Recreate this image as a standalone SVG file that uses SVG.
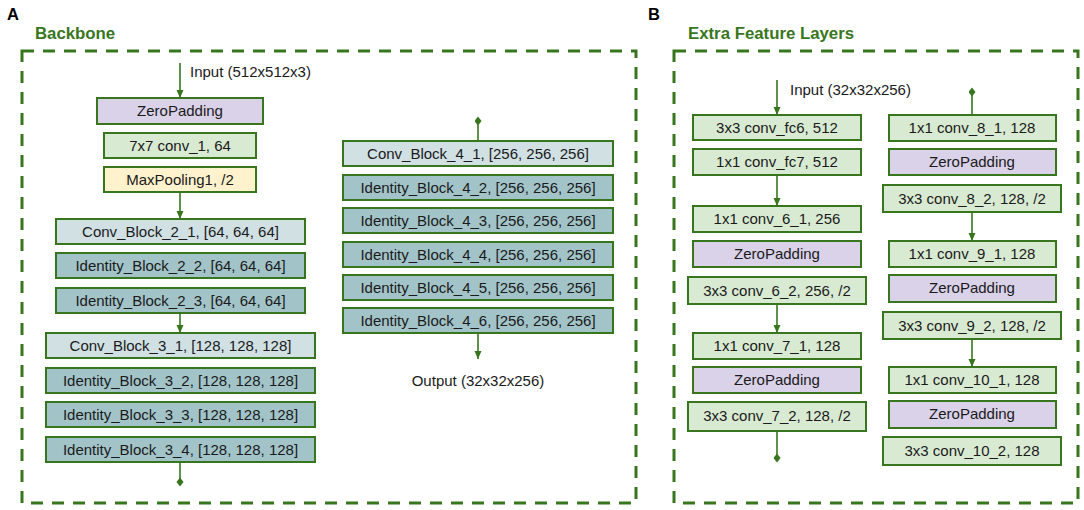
<svg xmlns="http://www.w3.org/2000/svg" width="1084" height="510" viewBox="0 0 1084 510">
<style>
.t{font-family:"Liberation Sans",Arial,sans-serif;font-size:15px;fill:#1a1a1a;text-anchor:middle}
.lab{font-family:"Liberation Sans",Arial,sans-serif;font-size:15px;fill:#1a1a1a}
.title{font-family:"Liberation Sans",Arial,sans-serif;font-size:16.8px;font-weight:bold;fill:#38761d}
.letter{font-family:"Liberation Sans",Arial,sans-serif;font-size:16.5px;font-weight:bold;fill:#000}
.panel{fill:none;stroke:#38761d;stroke-width:3;stroke-dasharray:12 9}
rect.b{stroke:#38761d;stroke-width:2}
.zp{fill:#d9d2e9}
.cv{fill:#d9ead3}
.mp{fill:#fff2cc}
.cb{fill:#d0e0e3}
.ib{fill:#a2c4c9}
.c{stroke:#38761d;stroke-width:1.6;fill:none}
.arr{marker-end:url(#ah)}
.dia{marker-end:url(#dm)}
</style>
<defs>
<marker id="ah" markerUnits="userSpaceOnUse" markerWidth="9" markerHeight="8" refX="8" refY="3.5" orient="auto"><path d="M0,0 L8,3.5 L0,7 z" fill="#38761d"/></marker>
<marker id="dm" markerUnits="userSpaceOnUse" markerWidth="10" markerHeight="8" refX="4.5" refY="3.5" orient="auto"><path d="M0,3.5 L4.5,0 L9,3.5 L4.5,7 z" fill="#38761d"/></marker>
</defs>

<text class="letter" x="7" y="20">A</text>
<text class="title" x="35" y="39">Backbone</text>
<rect class="panel" x="22" y="51" width="614" height="452"/>
<text class="letter" x="648" y="20">B</text>
<text class="title" x="688" y="39">Extra Feature Layers</text>
<rect class="panel" x="674" y="51" width="404" height="452"/>

<g id="connectors">
<line class="c arr" x1="180" y1="63" x2="180" y2="98"/>
<line class="c arr" x1="180" y1="192" x2="180" y2="219"/>
<line class="c arr" x1="180" y1="313" x2="180" y2="333"/>
<line class="c dia" x1="180" y1="462" x2="180" y2="482"/>
<line class="c dia" x1="478" y1="141" x2="478" y2="121"/>
<line class="c arr" x1="478" y1="333" x2="478" y2="359"/>
<line class="c arr" x1="777" y1="80" x2="777" y2="115"/>
<line class="c arr" x1="777" y1="175" x2="777" y2="206"/>
<line class="c arr" x1="777" y1="304" x2="777" y2="333"/>
<line class="c dia" x1="777" y1="431" x2="777" y2="458"/>
<line class="c dia" x1="972" y1="115" x2="972" y2="92"/>
<line class="c arr" x1="972" y1="212" x2="972" y2="241"/>
<line class="c arr" x1="972" y1="339" x2="972" y2="367"/>
</g>

<text class="lab" x="190" y="77">Input (512x512x3)</text>
<text class="t" x="478" y="386">Output (32x32x256)</text>
<text class="lab" x="790" y="95">Input (32x32x256)</text>

<g id="zeropad1"><rect class="b zp" x="97" y="98" width="166" height="26"/><text class="t" x="180" y="116">ZeroPadding</text></g>
<g id="conv1"><rect class="b cv" x="104" y="133" width="152" height="25"/><text class="t" x="180" y="151">7x7 conv_1, 64</text></g>
<g id="maxpool1"><rect class="b mp" x="104" y="167" width="152" height="25"/><text class="t" x="180" y="185">MaxPooling1, /2</text></g>
<g id="cb21"><rect class="b cb" x="56" y="219" width="249" height="25"/><text class="t" x="180.5" y="237">Conv_Block_2_1, [64, 64, 64]</text></g>
<g id="ib22"><rect class="b ib" x="56" y="253" width="249" height="25"/><text class="t" x="180.5" y="271">Identity_Block_2_2, [64, 64, 64]</text></g>
<g id="ib23"><rect class="b ib" x="56" y="288" width="249" height="25"/><text class="t" x="180.5" y="306">Identity_Block_2_3, [64, 64, 64]</text></g>
<g id="cb31"><rect class="b cb" x="46" y="333" width="269" height="25"/><text class="t" x="180.5" y="351">Conv_Block_3_1, [128, 128, 128]</text></g>
<g id="ib32"><rect class="b ib" x="46" y="368" width="269" height="25"/><text class="t" x="180.5" y="386">Identity_Block_3_2, [128, 128, 128]</text></g>
<g id="ib33"><rect class="b ib" x="46" y="402" width="269" height="25"/><text class="t" x="180.5" y="420">Identity_Block_3_3, [128, 128, 128]</text></g>
<g id="ib34"><rect class="b ib" x="46" y="437" width="269" height="25"/><text class="t" x="180.5" y="455">Identity_Block_3_4, [128, 128, 128]</text></g>

<g id="cb41"><rect class="b cb" x="343" y="141" width="270" height="25"/><text class="t" x="478" y="159">Conv_Block_4_1, [256, 256, 256]</text></g>
<g id="ib42"><rect class="b ib" x="343" y="175" width="270" height="25"/><text class="t" x="478" y="193">Identity_Block_4_2, [256, 256, 256]</text></g>
<g id="ib43"><rect class="b ib" x="343" y="208" width="270" height="25"/><text class="t" x="478" y="226">Identity_Block_4_3, [256, 256, 256]</text></g>
<g id="ib44"><rect class="b ib" x="343" y="242" width="270" height="25"/><text class="t" x="478" y="260">Identity_Block_4_4, [256, 256, 256]</text></g>
<g id="ib45"><rect class="b ib" x="343" y="275" width="270" height="25"/><text class="t" x="478" y="293">Identity_Block_4_5, [256, 256, 256]</text></g>
<g id="ib46"><rect class="b ib" x="343" y="308" width="270" height="25"/><text class="t" x="478" y="326">Identity_Block_4_6, [256, 256, 256]</text></g>

<g id="fc6"><rect class="b cv" x="693" y="115" width="168" height="25"/><text class="t" x="777" y="133">3x3 conv_fc6, 512</text></g>
<g id="fc7"><rect class="b cv" x="693" y="149" width="168" height="26"/><text class="t" x="777" y="167">1x1 conv_fc7, 512</text></g>
<g id="c61"><rect class="b cv" x="693" y="206" width="168" height="26"/><text class="t" x="777" y="224">1x1 conv_6_1, 256</text></g>
<g id="zp6"><rect class="b zp" x="693" y="241" width="168" height="26"/><text class="t" x="777" y="259">ZeroPadding</text></g>
<g id="c62"><rect class="b cv" x="688" y="277" width="178" height="27"/><text class="t" x="777" y="296">3x3 conv_6_2, 256, /2</text></g>
<g id="c71"><rect class="b cv" x="693" y="333" width="168" height="26"/><text class="t" x="777" y="351">1x1 conv_7_1, 128</text></g>
<g id="zp7"><rect class="b zp" x="693" y="367" width="168" height="26"/><text class="t" x="777" y="385">ZeroPadding</text></g>
<g id="c72"><rect class="b cv" x="688" y="402" width="178" height="29"/><text class="t" x="777" y="421">3x3 conv_7_2, 128, /2</text></g>

<g id="c81"><rect class="b cv" x="889" y="115" width="167" height="26"/><text class="t" x="972" y="133">1x1 conv_8_1, 128</text></g>
<g id="zp8"><rect class="b zp" x="889" y="149" width="167" height="26"/><text class="t" x="972" y="167">ZeroPadding</text></g>
<g id="c82"><rect class="b cv" x="883" y="185" width="178" height="27"/><text class="t" x="972" y="204">3x3 conv_8_2, 128, /2</text></g>
<g id="c91"><rect class="b cv" x="889" y="241" width="167" height="26"/><text class="t" x="972" y="259">1x1 conv_9_1, 128</text></g>
<g id="zp9"><rect class="b zp" x="889" y="275" width="167" height="27"/><text class="t" x="972" y="293">ZeroPadding</text></g>
<g id="c92"><rect class="b cv" x="883" y="312" width="178" height="27"/><text class="t" x="972" y="331">3x3 conv_9_2, 128, /2</text></g>
<g id="c101"><rect class="b cv" x="889" y="367" width="167" height="26"/><text class="t" x="972" y="385">1x1 conv_10_1, 128</text></g>
<g id="zp10"><rect class="b zp" x="889" y="401" width="167" height="27"/><text class="t" x="972" y="419">ZeroPadding</text></g>
<g id="c102"><rect class="b cv" x="883" y="437" width="178" height="28"/><text class="t" x="972" y="456">3x3 conv_10_2, 128</text></g>
</svg>
